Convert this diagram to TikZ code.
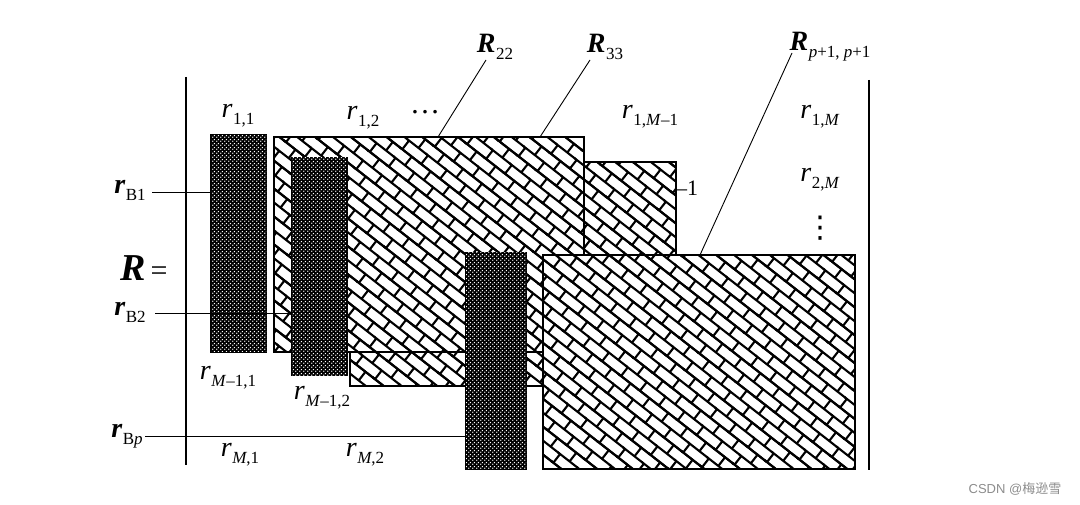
\documentclass[tikz,border=0pt]{standalone}
\usepackage{fontspec}
\setmainfont{Liberation Serif}
\newfontfamily\cjkfont{Noto Sans CJK SC}
\newfontfamily\wmfont{Liberation Sans}
\newfontfamily\djfont{DejaVu Sans}
\usetikzlibrary{patterns,patterns.meta}

\pgfdeclarepattern{
  name=dbrick,
  type=uncolored,
  bottom left={\pgfpoint{-2pt}{-2pt}},
  top right={\pgfpoint{26pt}{24pt}},
  tile size={\pgfpoint{24pt}{22pt}},
  tile transformation={\pgftransformrotate{-38}},
  code={
    \pgfsetlinewidth{2.1pt}
    \pgfpathmoveto{\pgfpoint{-1pt}{0pt}}\pgfpathlineto{\pgfpoint{25pt}{0pt}}
    \pgfpathmoveto{\pgfpoint{-1pt}{11pt}}\pgfpathlineto{\pgfpoint{25pt}{11pt}}
    \pgfpathmoveto{\pgfpoint{-1pt}{22pt}}\pgfpathlineto{\pgfpoint{25pt}{22pt}}
    \pgfpathmoveto{\pgfpoint{2pt}{0pt}}\pgfpathlineto{\pgfpoint{2pt}{11pt}}
    \pgfpathmoveto{\pgfpoint{14pt}{11pt}}\pgfpathlineto{\pgfpoint{14pt}{22pt}}
    \pgfusepath{stroke}
  }
}

\pgfdeclarepattern{
  name=wdots,
  type=uncolored,
  bottom left={\pgfpoint{0pt}{0pt}},
  top right={\pgfpoint{3.6pt}{3.6pt}},
  tile size={\pgfpoint{3.6pt}{3.6pt}},
  code={
    \pgfpathcircle{\pgfpoint{0.9pt}{0.9pt}}{0.8pt}
    \pgfpathcircle{\pgfpoint{2.7pt}{2.7pt}}{0.8pt}
    \pgfusepath{fill}
  }
}

\newcommand\mainsz{\fontsize{28}{30}\selectfont}
\newcommand\subsz{\fontsize{17}{18}\selectfont}
\newcommand\lowsub[1]{\kern0.5pt\raisebox{-7pt}{\subsz #1}}
\newcommand\rsym[1]{\textit{r}\lowsub{#1}}
\newcommand\rbold[1]{\textbf{\textit{r}}\lowsub{#1}}
\newcommand\Rbold[1]{\textbf{\textit{R}}\lowsub{#1}}
\newcommand\Mi{\textit{M}}

\begin{document}
\begin{tikzpicture}[x=1pt,y=1pt,
  hrect/.style={draw, line width=2.4pt, fill=white, postaction={pattern=dbrick},
    inner sep=0pt, outer sep=0pt, anchor=north west},
  drect/.style={draw, line width=1.5pt, fill=black,
    postaction={pattern=wdots, pattern color=white},
    inner sep=0pt, outer sep=0pt, anchor=north west},
  lab/.style={inner sep=0pt, font=\mainsz},
  thinline/.style={line width=0.9pt},
  bar/.style={line width=2pt}]
\useasboundingbox (0,0) rectangle (1080,-505);

% hatched blocks
\node[hrect, minimum width=326pt, minimum height=224pt] (R33b) at (350,-162) {};
\node[hrect, minimum width=310pt, minimum height=215pt] (R22b) at (274,-137) {};
\node[hrect, minimum width=312pt, minimum height=214pt] (Rpb) at (543,-255) {};

% bracket bars
\coordinate (lbt) at (186,-77);  \coordinate (lbb) at (186,-465);
\coordinate (rbt) at (869,-80);  \coordinate (rbb) at (869,-470);
\draw[bar] (lbt) -- (lbb);
\draw[bar] (rbt) -- (rbb);

% labels
\node[lab] (rB1) at (130,-190) {\rbold{B1}};
\node[lab] (rB2) at (130,-312) {\rbold{B2}};
\node[lab] (rBp) at (127,-436) {\rbold{B\textit{p}}};

\coordinate (b1s) at (152,-192);
\coordinate (b2s) at (155,-313);
\coordinate (bps) at (145,-436);

% dark blocks
\node[drect, minimum width=55pt, minimum height=217pt] (D1) at (211,-135) {};
\draw[thinline] (b2s) -- (b2s -| 292,0);
\node[drect, minimum width=55pt, minimum height=217pt] (D2) at (292,-158) {};
\node[drect, minimum width=60pt, minimum height=216pt] (D3) at (466,-253) {};

\draw[thinline] (b1s) -- (b1s -| D1.west);
\draw[thinline] (bps) -- (bps -| D3.west);

% element labels
\node[lab] (r11) at (238,-116) {\rsym{1,1}};
\node[lab] (r12) at (363,-118) {\rsym{1,2}};
\node[lab, font=\fontsize{30}{32}\selectfont] (hdots) at (425,-112) {…};
\node[lab] (r1M1) at (650,-117) {\rsym{1,\Mi–1}};
\node[lab] (r1M) at (820,-117) {\rsym{1,\Mi}};
\node[lab] (r2M) at (820,-180) {\rsym{2,\Mi}};
\node[lab, font=\fontsize{30}{32}\selectfont\djfont] (vdts) at (820,-228) {⋮};
\node[lab] (Req) at (144,-268) {{\fontsize{38}{40}\selectfont\textbf{\textit{R}}}\,{\fontsize{30}{32}\selectfont =}};
\node[lab] (rM11) at (228,-378) {\rsym{\Mi–1,1}};
\node[lab] (rM12) at (322,-398) {\rsym{\Mi–1,2}};
\node[lab] (rM1) at (240,-455) {\rsym{\Mi,1}};
\node[lab] (rM2) at (365,-455) {\rsym{\Mi,2}};
\node[lab, anchor=west, font=\fontsize{22}{24}\selectfont] (mone) at (676,-188) {–1};

\node[lab] (R22) at (495,-47) {\Rbold{22}};
\node[lab] (R33) at (605,-47) {\Rbold{33}};
\node[lab] (Rpp) at (830,-47) {\Rbold{\textit{p}+1, \textit{p}+1}};

% leader lines
\coordinate (c22a) at (486,-60); \coordinate (c22b) at (438,-137);
\coordinate (c33a) at (590,-60); \coordinate (c33b) at (540,-137);
\coordinate (cpa) at (792,-53);  \coordinate (cpb) at (700,-255);
\draw[thinline] (c22a) -- (c22b);
\draw[thinline] (c33a) -- (c33b);
\draw[thinline] (cpa) -- (cpb);

% watermark
\node[inner sep=0pt, text=black!45, font=\fontsize{13}{14}\selectfont] (wm) at (1015,-489)
  {\wmfont CSDN @\cjkfont 梅逊雪};
\end{tikzpicture}
\end{document}
